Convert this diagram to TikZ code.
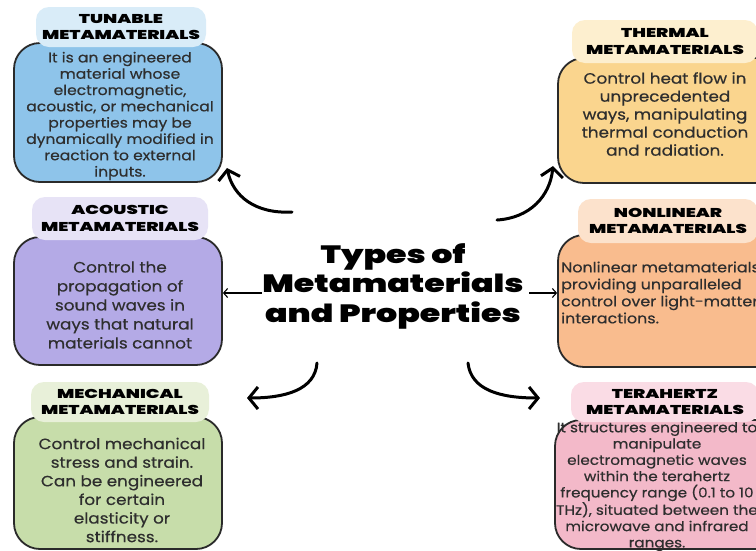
\documentclass[tikz,border=0pt]{standalone}
\usepackage{fontspec}
\setmainfont{Poppins}[FakeStretch=1.12,UprightFeatures={FakeBold=0.5}]
\newfontfamily\headfont{Poppins Black}[FakeStretch=1.42]
\newfontfamily\titlefont{Poppins Black}[FakeStretch=1.33]
\usetikzlibrary{arrows.meta}

\definecolor{edge}{HTML}{2A2A2A}
\definecolor{txt}{HTML}{2E2E2E}
\definecolor{tunbody}{HTML}{8EC4EA}
\definecolor{tuntab}{HTML}{D9ECF8}
\definecolor{thbody}{HTML}{FAD58E}
\definecolor{thtab}{HTML}{FDEFCF}
\definecolor{acbody}{HTML}{B4AAE6}
\definecolor{actab}{HTML}{E7E3F6}
\definecolor{nlbody}{HTML}{F9BC8E}
\definecolor{nltab}{HTML}{FCE2CC}
\definecolor{mebody}{HTML}{C7DDAA}
\definecolor{metab}{HTML}{E8F0D9}
\definecolor{tebody}{HTML}{F3B9C9}
\definecolor{tetab}{HTML}{FADCE5}

\begin{document}
\begin{tikzpicture}[x=1pt,y=-1pt,
  card/.style={draw=edge,line width=1.8pt,rounded corners=26pt,inner sep=0pt,rectangle},
  tab/.style={rounded corners=13pt,inner sep=0pt,rectangle,align=center,text=black,
    font=\headfont\fontsize{12.8}{16.5}\selectfont},
  blurb/.style={align=center,text=txt,inner sep=0pt},
  curly/.style={line width=3pt,line cap=round,
    -{Straight Barb[length=9pt,width=22pt,line width=3pt]}},
  thinarrow/.style={line width=1.1pt,-{Straight Barb[length=4pt,width=9pt]}}
]
\useasboundingbox (0,0) rectangle (756,550);
\clip (0,0) rectangle (756,550);
\fill[white] (0,0) rectangle (756,550);

% ---- cards ----
\node[card,fill=tunbody,minimum width=208pt,minimum height=139pt] (tun) at (118,112.5) {};
\node[card,fill=thbody,minimum width=232pt,minimum height=125pt] (the) at (674,120.5) {};
\node[card,fill=acbody,minimum width=208pt,minimum height=128pt] (aco) at (118,301) {};
\node[card,fill=nlbody,minimum width=227pt,minimum height=132pt] (nonl) at (671.5,301) {};
\node[card,fill=mebody,minimum width=208pt,minimum height=132pt] (mech) at (118,483) {};
\node[card,fill=tebody,minimum width=230pt,minimum height=129pt] (tera) at (670,484.5) {};

% ---- header tabs ----
\node[tab,fill=tuntab,minimum width=170pt,minimum height=40pt] (tunh) at (121,27) {TUNABLE\\METAMATERIALS};
\node[tab,fill=thtab,minimum width=186pt,minimum height=43pt] (theh) at (665,41.5) {THERMAL\\METAMATERIALS};
\node[tab,fill=actab,minimum width=176pt,minimum height=43pt] (acoh) at (120,218.5) {ACOUSTIC\\METAMATERIALS};
\node[tab,fill=nltab,minimum width=180pt,minimum height=44pt] (nonlh) at (668,221) {NONLINEAR\\METAMATERIALS};
\node[tab,fill=metab,minimum width=178pt,minimum height=40pt] (mechh) at (120,402) {MECHANICAL\\METAMATERIALS};
\node[tab,fill=tetab,minimum width=188pt,minimum height=40pt] (terah) at (665,402) {TERAHERTZ\\METAMATERIALS};

% ---- descriptions ----
\node[blurb,font=\fontsize{13.9}{16.3}\selectfont] (tunt) at (120,116)
  {It is an engineered\\material whose\\electromagnetic,\\acoustic, or mechanical\\properties may be\\dynamically modified in\\reaction to external\\inputs.};
\node[blurb,font=\fontsize{15}{18}\selectfont] (thet) at (665,114)
  {Control heat flow in\\unprecedented\\ways, manipulating\\thermal conduction\\and radiation.};
\node[blurb,font=\fontsize{15}{19}\selectfont] (acot) at (120,305)
  {Control the\\propagation of\\sound waves in\\ways that natural\\materials cannot};
\node[blurb,align=left,anchor=west,font=\fontsize{14.2}{17}\selectfont] (nonlt) at (561,292.5)
  {Nonlinear metamaterials\\providing unparalleled\\control over light-matter\\interactions.};
\node[blurb,font=\fontsize{15}{18.6}\selectfont] (mecht) at (122,490)
  {Control mechanical\\stress and strain.\\Can be engineered\\for certain\\elasticity or\\stiffness.};
\node[blurb,font=\fontsize{13.6}{16.3}\selectfont] (terat) at (657,486.5)
  {It structures engineered to\\manipulate\\electromagnetic waves\\within the terahertz\\frequency range (0.1 to 10\\THz), situated between the\\microwave and infrared\\ranges.};

% ---- title ----
\node[align=center,inner sep=0pt,text=black,font=\titlefont\fontsize{25}{29.5}\selectfont] (title) at (393,286)
  {Types of\\Metamaterials\\and Properties};

% ---- connectors ----
\coordinate (a1s) at (292,212); \coordinate (a1e) at (227,168);
\coordinate (a2s) at (497,220); \coordinate (a2e) at (553,166);
\coordinate (a3s) at (317,363); \coordinate (a3e) at (247,398);
\coordinate (a4s) at (468,363); \coordinate (a4e) at (540,398);
\draw[curly] (a1s) .. controls (255,214) and (233,196) .. (a1e);
\draw[curly] (a2s) .. controls (530,218) and (550,196) .. (a2e);
\draw[curly] (a3s) .. controls (315,390) and (285,398) .. (a3e);
\draw[curly] (a4s) .. controls (471,390) and (500,398) .. (a4e);

\coordinate (lt) at (262,293);
\coordinate (rt) at (529,293);
\draw[thinarrow] (lt) -- (lt -| aco.east);
\draw[thinarrow] (rt) -- (rt -| nonl.west);
\end{tikzpicture}
\end{document}
